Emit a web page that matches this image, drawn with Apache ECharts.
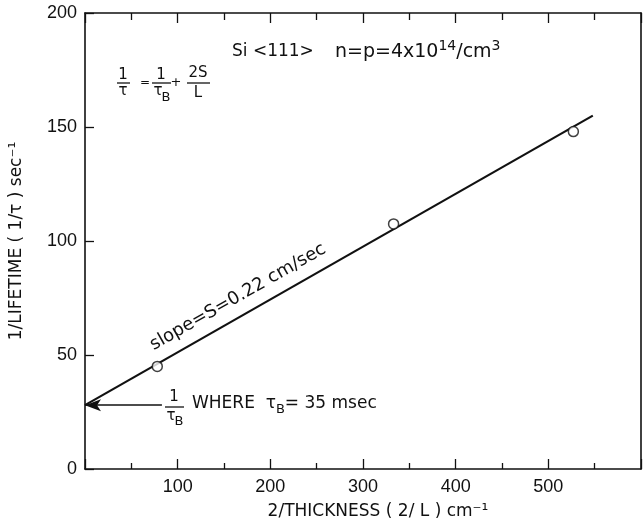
<!DOCTYPE html>
<html>
<head>
<meta charset="utf-8">
<script src="https://cdn.jsdelivr.net/npm/echarts@6/dist/echarts.min.js"></script>
<style>
  html, body { margin: 0; padding: 0; background: #fff; }
  #chart { width: 644px; height: 526px; }
</style>
</head>
<body>
<div id="chart"></div>
<script>
// measured points: 2/L (cm^-1) vs 1/tau (sec^-1)
const thickness = [78, 333, 527];
const invLifetime = [45, 107.5, 148];
// fitted line 1/tau = 1/tauB + 2S/L
const fitX = [0, 548];
const fitY = [28, 155];
// arrow to the intercept 1/tauB
const arrowX = [83, 0];
const arrowY = [28, 28];
const xTicks = [0, 100, 200, 300, 400, 500, 600];
const yTicks = [0, 50, 100, 150, 200];

const chart = echarts.init(document.getElementById("chart"));
const FONT = "DejaVu Sans";
const TICKFONT = "Liberation Sans";
const ink = "#111";

function frame() {
  return {
    axisLine: { show: true, onZero: false, lineStyle: { color: ink, width: 1.6 } },
    splitLine: { show: false }
  };
}

chart.setOption({
  animation: false,
  backgroundColor: "#fff",
  grid: { left: 81, right: 2, top: 13, bottom: 57 },
  xAxis: [
    Object.assign(frame(), {
      type: "value", position: "bottom", min: xTicks[0], max: xTicks[xTicks.length - 1], interval: 100,
      axisTick: { show: true, inside: true, length: 10, lineStyle: { color: ink, width: 1.3 } },
      minorTick: { show: true, splitNumber: 2, length: 6, lineStyle: { color: ink, width: 1.3 } },
      axisLabel: {
        color: ink, fontFamily: TICKFONT, fontSize: 18, margin: 9,
        formatter: v => (v === xTicks[0] || v === xTicks[xTicks.length - 1]) ? "" : String(v)
      },
      name: "2/THICKNESS ( 2/ L ) cm⁻¹", nameLocation: "middle", nameGap: 34,
      nameTextStyle: { color: ink, fontFamily: FONT, fontSize: 17, padding: [0, 0, 0, 30] }
    }),
    Object.assign(frame(), {
      type: "value", position: "top", min: xTicks[0], max: xTicks[xTicks.length - 1], interval: 100,
      axisTick: { show: true, inside: true, length: 10, lineStyle: { color: ink, width: 1.3 } },
      minorTick: { show: true, splitNumber: 2, length: 7, lineStyle: { color: ink, width: 1.3 } },
      axisLabel: { show: false }
    })
  ],
  yAxis: [
    Object.assign(frame(), {
      type: "value", position: "left", min: yTicks[0], max: yTicks[yTicks.length - 1], interval: 50,
      axisTick: { show: true, inside: true, length: 9, lineStyle: { color: ink, width: 1.3 } },
      axisLabel: { color: ink, fontFamily: TICKFONT, fontSize: 18, margin: 8 },
      name: "1/LIFETIME ( 1/τ ) sec⁻¹", nameLocation: "middle", nameGap: 60,
      nameTextStyle: { color: ink, fontFamily: FONT, fontSize: 17 }
    }),
    Object.assign(frame(), {
      type: "value", position: "right", min: yTicks[0], max: yTicks[yTicks.length - 1], interval: 50,
      axisTick: { show: false }, axisLabel: { show: false }
    })
  ],
  series: [
    {
      type: "line", name: "fit",
      data: fitX.map((x, i) => [x, fitY[i]]),
      symbol: "none",
      lineStyle: { color: ink, width: 2.2 },
      z: 2,
      markLine: {
        silent: true,
        symbol: ["none", "arrow"],
        symbolSize: [9, 16],
        label: { show: false },
        lineStyle: { color: ink, width: 1.5, type: "solid" },
        data: [[{ coord: [arrowX[0], arrowY[0]] }, { coord: [arrowX[1], arrowY[1]] }]]
      }
    },
    {
      type: "scatter", name: "measured",
      data: thickness.map((x, i) => [x, invLifetime[i]]),
      symbol: "circle", symbolSize: 10,
      itemStyle: { color: "#fff", borderColor: ink, borderWidth: 1.5 },
      z: 3
    }
  ],
  graphic: [
    // formula 1/tau = 1/tauB + 2S/L
    { type: "text", x: 123, y: 75, style: { text: "1", font: "15px " + FONT, fill: ink, align: "center", verticalAlign: "middle" } },
    { type: "line", shape: { x1: 117, y1: 83, x2: 130, y2: 83 }, style: { stroke: ink, lineWidth: 1.3 } },
    { type: "text", x: 123, y: 91, style: { text: "τ", font: "15px " + FONT, fill: ink, align: "center", verticalAlign: "middle" } },
    { type: "text", x: 145, y: 83, style: { text: "=", font: "12px " + FONT, fill: ink, align: "center", verticalAlign: "middle" } },
    { type: "text", x: 161, y: 75, style: { text: "1", font: "15px " + FONT, fill: ink, align: "center", verticalAlign: "middle" } },
    { type: "line", shape: { x1: 152, y1: 83, x2: 171, y2: 83 }, style: { stroke: ink, lineWidth: 1.3 } },
    { type: "text", x: 158, y: 91, style: { text: "τ", font: "15px " + FONT, fill: ink, align: "center", verticalAlign: "middle" } },
    { type: "text", x: 166, y: 98, style: { text: "B", font: "13px " + FONT, fill: ink, align: "center", verticalAlign: "middle" } },
    { type: "text", x: 176, y: 83, style: { text: "+", font: "13px " + FONT, fill: ink, align: "center", verticalAlign: "middle" } },
    { type: "text", x: 198, y: 73, style: { text: "2S", font: "15px " + FONT, fill: ink, align: "center", verticalAlign: "middle" } },
    { type: "line", shape: { x1: 187, y1: 83, x2: 210, y2: 83 }, style: { stroke: ink, lineWidth: 1.3 } },
    { type: "text", x: 198, y: 93, style: { text: "L", font: "15px " + FONT, fill: ink, align: "center", verticalAlign: "middle" } },

    // sample description
    { type: "text", x: 232, y: 52, style: { text: "Si <111>", font: "17px " + FONT, fill: ink, verticalAlign: "middle" } },
    { type: "text", x: 335, y: 52, style: {
        text: "n=p=4x10{sup|14}/cm{sup|3}", font: "19px " + FONT, fill: ink, verticalAlign: "middle",
        rich: { sup: { fontSize: 14, fontFamily: FONT, fill: ink, padding: [0, 0, 12, 0] } }
    } },

    // slope label along the fit line
    { type: "text", x: 238, y: 297, rotation: 29.6 * Math.PI / 180, style: {
        text: "slope=S=0.22 cm/sec", font: "18px " + FONT, fill: ink, align: "center", verticalAlign: "middle"
    } },

    // intercept annotation
    { type: "text", x: 174, y: 397, style: { text: "1", font: "15px " + FONT, fill: ink, align: "center", verticalAlign: "middle" } },
    { type: "line", shape: { x1: 165, y1: 407, x2: 184, y2: 407 }, style: { stroke: ink, lineWidth: 1.3 } },
    { type: "text", x: 171, y: 416, style: { text: "τ", font: "15px " + FONT, fill: ink, align: "center", verticalAlign: "middle" } },
    { type: "text", x: 179, y: 422, style: { text: "B", font: "13px " + FONT, fill: ink, align: "center", verticalAlign: "middle" } },
    { type: "text", x: 192, y: 404, style: {
        text: "WHERE  τ{sub|B}= 35 msec", font: "17px " + FONT, fill: ink, verticalAlign: "middle",
        rich: { sub: { fontSize: 13, fontFamily: FONT, fill: ink, padding: [12, 0, 0, 0] } }
    } }
  ]
});

window.addEventListener("resize", () => chart.resize());
</script>
</body>
</html>
